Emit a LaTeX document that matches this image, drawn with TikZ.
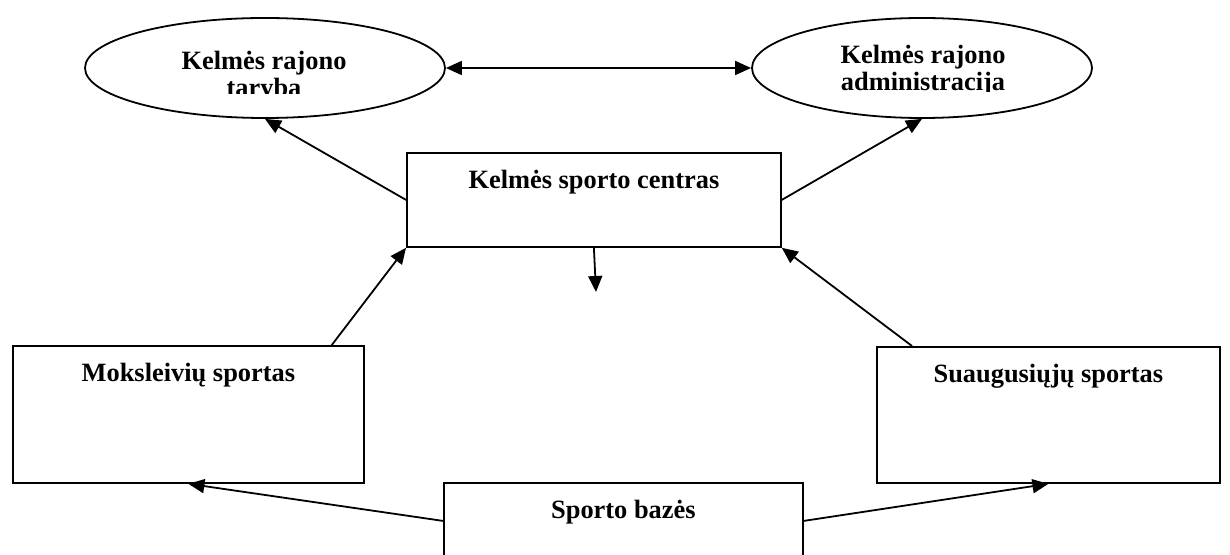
\documentclass[tikz,border=0pt]{standalone}
\usepackage{fontspec}
\setmainfont{Liberation Serif}
\usetikzlibrary{shapes.geometric,arrows.meta}

\begin{document}
\begin{tikzpicture}[x=0.5pt,y=-0.5pt,line width=0.9pt,
      >={Triangle[length=8pt,width=7pt]},
      every node/.style={font=\fontsize{13.2}{13.5}\selectfont\bfseries},
      box/.style={draw,rectangle,inner sep=0pt,text height=18pt,anchor=north west},
      oval/.style={draw,ellipse,inner sep=0pt,minimum height=50pt}]
      \clip(0,0)rectangle(1230,555);
      % valdymas
      \node[oval,minimum width=180pt](taryba)at(265,68){};
      \node[oval,minimum width=170pt](admin)at(922,68){};
      \begin{scope}
        \clip(90,0)rectangle(440,94);
        \node[align=center,anchor=base,inner sep=0pt](tarybaTxt)at(264,97){Kelmės rajono\\taryba};
      \end{scope}
      \begin{scope}
        \clip(760,0)rectangle(1085,92);
        \node[align=center,anchor=base,inner sep=0pt](adminTxt)at(923,91){Kelmės rajono\\administracija};
      \end{scope}
      % centras ir sportas
      \node[box,minimum width=187pt,text depth=29pt](centras)at(406,152){Kelmės sporto centras};
      \node[box,minimum width=175.5pt,text depth=50.5pt](moks)at(12,345){Moksleivių sportas};
      \node[box,minimum width=171.5pt,text depth=50pt](suaug)at(876,346){Suaugusiųjų sportas};
      \node[box,minimum width=179.5pt,text depth=20pt](bazes)at(443,482){Sporto bazės};
      \coordinate(apacia)at(596,292);
      % rodykles
      \draw[<->](taryba.east)--(admin.west);
      \draw[->](centras.west)--(taryba.south);
      \draw[->](centras.east)--(admin.south);
      \draw[->](centras.south)--(apacia);
      \draw[->]([xshift=-16.5pt]moks.north east)--(centras.south west);
      \draw[->]([xshift=18pt]suaug.north west)--(centras.south east);
      \draw[->](bazes.west)--(moks.south);
      \draw[->](bazes.east)--(suaug.south);
\end{tikzpicture}
\end{document}
